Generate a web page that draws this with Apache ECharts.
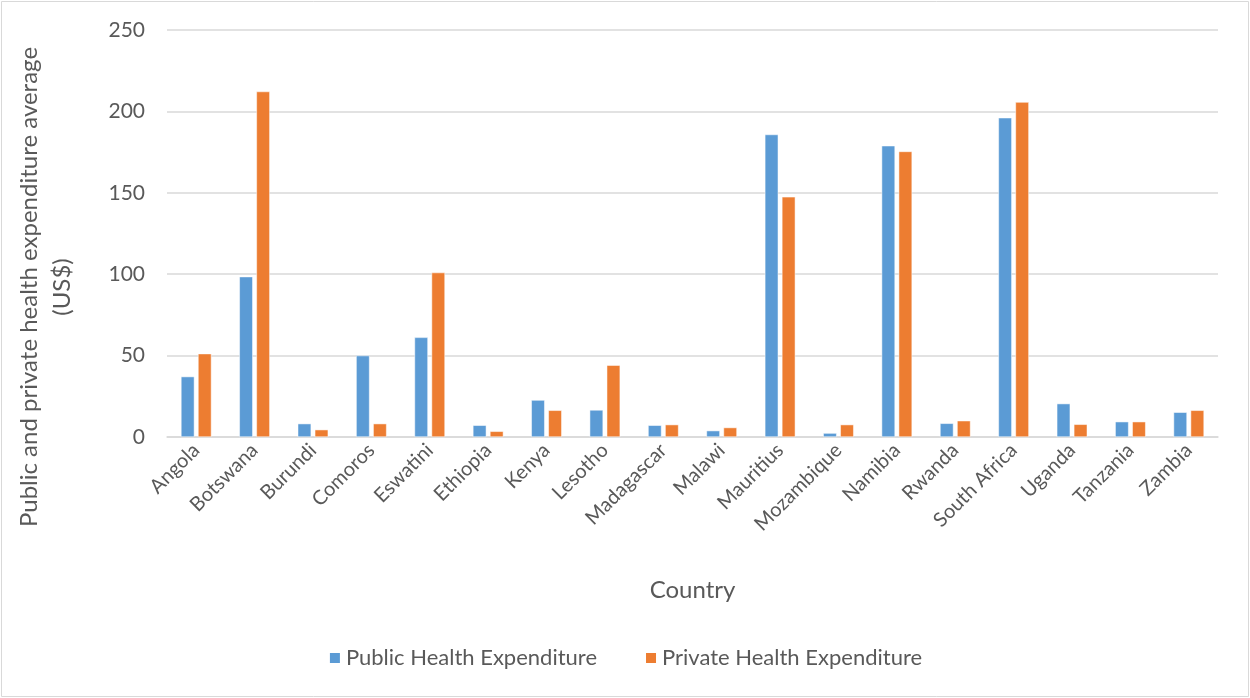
<!DOCTYPE html>
<html><head><meta charset="utf-8">
<script src="https://cdn.jsdelivr.net/npm/echarts@6/dist/echarts.min.js"></script>
<style>html,body{margin:0;padding:0;background:#fff}#c{width:1250px;height:698px}</style>
</head><body><div id="c"></div>
<script>
const countries = ["Angola","Botswana","Burundi","Comoros","Eswatini","Ethiopia","Kenya","Lesotho","Madagascar","Malawi","Mauritius","Mozambique","Namibia","Rwanda","South Africa","Uganda","Tanzania","Zambia"];
const publicExp = [37.1,98.5,8.2,50.0,61.2,7.2,22.7,16.6,7.2,3.9,185.8,2.4,178.9,8.4,196.1,20.5,9.4,15.2];
const privateExp = [51.2,212.2,4.5,8.2,101.0,3.5,16.4,44.1,7.6,5.8,147.5,7.6,175.4,10.0,205.7,7.8,9.4,16.4];
const yTicks = [0,50,100,150,200,250];
const seriesNames = ["Public Health Expenditure","Private Health Expenditure"];

const FONT = "Lato";
const TXT = "#595959";
const chart = echarts.init(document.getElementById('c'));
chart.setOption({
  animation:false,
  textStyle:{fontFamily:FONT,color:TXT},
  grid:{left:167,right:32,top:30,bottom:261,containLabel:false},
  legend:{bottom:24,left:'center',itemWidth:12,itemHeight:12,itemGap:47,icon:'rect',
    textStyle:{fontFamily:FONT,fontSize:22,color:TXT},data:seriesNames},
  xAxis:{type:'category',data:countries,
    axisLine:{lineStyle:{color:'#d9d9d9',width:1.5}},axisTick:{show:false},
    axisLabel:{rotate:45,fontSize:20,color:TXT,fontFamily:FONT,margin:10,interval:0},
    name:'Country',nameLocation:'middle',nameGap:141,
    nameTextStyle:{fontSize:24,color:TXT,fontFamily:FONT}},
  yAxis:{type:'value',min:yTicks[0],max:yTicks[yTicks.length-1],interval:50,
    axisLine:{show:false},axisTick:{show:false},
    axisLabel:{fontSize:21,color:TXT,fontFamily:FONT,margin:22},
    splitLine:{lineStyle:{color:'#d9d9d9',width:1.5}}},
  graphic:[
    {type:'rect',shape:{x:1.5,y:1.5,width:1247,height:695},style:{fill:'none',stroke:'#d9d9d9',lineWidth:1},silent:true},
    {type:'text',x:46,y:287,rotation:Math.PI/2,
      style:{text:'Public and private health expenditure average\n(US$)',align:'center',verticalAlign:'middle',
      fontFamily:FONT,fontSize:24,fill:TXT,lineHeight:33}}
  ],
  series:[
    {name:seriesNames[0],type:'bar',data:publicExp,barWidth:'23%',barGap:'27%',
      itemStyle:{color:'#5b9bd5',borderColor:'#fff',borderWidth:0.5}},
    {name:seriesNames[1],type:'bar',data:privateExp,barWidth:'23%',
      itemStyle:{color:'#ed7d31',borderColor:'#fff',borderWidth:0.5}}
  ]
});
</script></body></html>
